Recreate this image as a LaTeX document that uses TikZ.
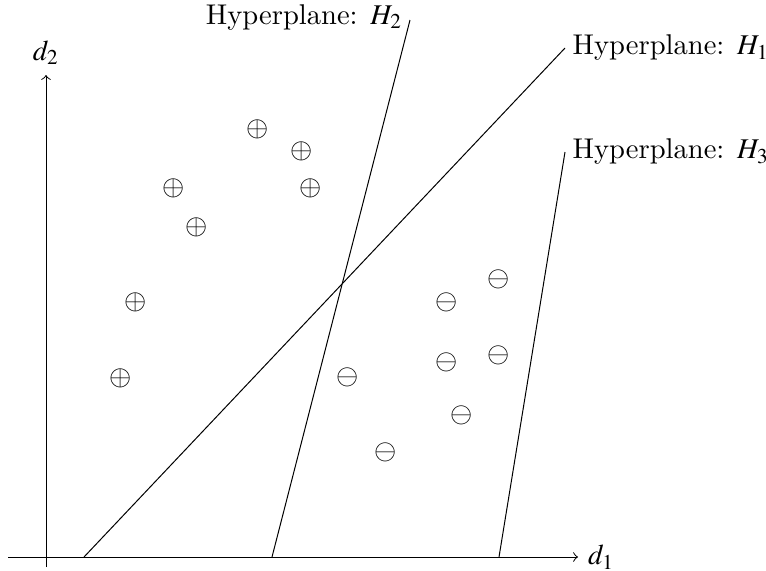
\documentclass[tikz,border=0pt]{standalone}
\usepackage{mathptmx}
\usepackage{tikz}
\usetikzlibrary{positioning}

\begin{document}
\begin{tikzpicture}[
      x=0.35pt, y=-0.35pt,
      ax/.style={->, line width=0.35pt},
      hp/.style={line width=0.35pt},
      lbl/.style={font=\normalsize, inner sep=2.5pt},
      pt/.style={inner sep=0pt}
    ]
    \useasboundingbox (0,0) rectangle (766,570);
    % axes
    \coordinate (xs) at (8,557); \coordinate (xe) at (578,557);
    \coordinate (ys) at (46,567); \coordinate (ye) at (46,75);
    \draw[ax] (xs) -- (xe);
    \draw[ax] (ys) -- (ye);
    \node[right=0pt of xe] (d1) {$d_1$};
    \node[above=0pt of ye] (d2) {$d_2$};
    % hyperplanes
    \coordinate (h1a) at (84,557);  \coordinate (h1b) at (565,48);
    \coordinate (h2a) at (272,557); \coordinate (h2b) at (410,20);
    \coordinate (h3a) at (499,557); \coordinate (h3b) at (565,152);
    \draw[hp] (h1a) -- (h1b);
    \draw[hp] (h2a) -- (h2b);
    \draw[hp] (h3a) -- (h3b);
    \node[lbl, right=0pt of h1b] (l1) {Hyperplane: $H_1$};
    \node[lbl, left=0pt of h2b, yshift=1pt] (l2) {Hyperplane: $H_2$};
    \node[lbl, right=0pt of h3b] (l3) {Hyperplane: $H_3$};
    % positive points
    \foreach \x/\y [count=\i] in {258/129, 302/151, 174/188, 311/188, 197/227, 136/302, 121/378}
      \node[pt] (p\i) at (\x,\y) {$\oplus$};
    % negative points
    \foreach \x/\y [count=\i] in {499/279, 447/302, 447/362, 499/355, 348/377, 462/415, 386/452}
      \node[pt] (n\i) at (\x,\y) {$\ominus$};
  \end{tikzpicture}
\end{document}
